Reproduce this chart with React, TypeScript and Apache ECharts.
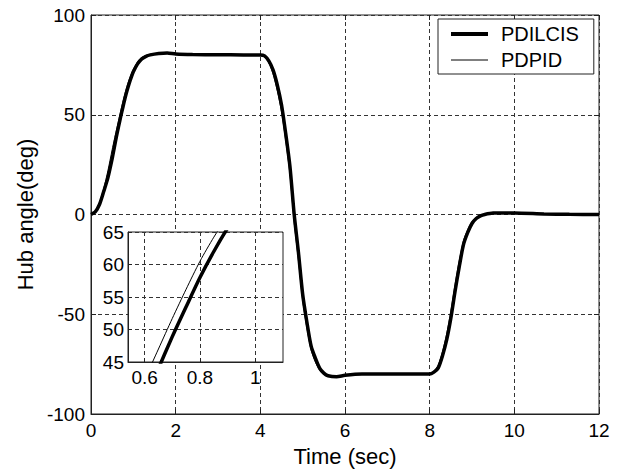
import React, { useEffect, useRef } from "react";
import * as echarts from "echarts";

// Time samples (sec)
const time = [
  0, 0.1, 0.2, 0.3, 0.4, 0.5, 0.55, 0.6, 0.65, 0.7, 0.75, 0.8, 0.85, 0.9, 0.95, 1.0, 1.1, 1.2,
  1.3, 1.4, 1.6, 1.8, 2.0, 2.4, 3.0, 3.6, 4.0, 4.1, 4.2, 4.3, 4.4, 4.5, 4.6, 4.7,
  4.8, 4.9, 5.0, 5.1, 5.2, 5.3, 5.4, 5.5, 5.6, 5.8, 6.0, 6.4, 7.0, 7.6, 8.0, 8.1,
  8.2, 8.3, 8.4, 8.5, 8.6, 8.7, 8.8, 8.9, 9.0, 9.1, 9.2, 9.3, 9.5, 10.0, 10.7,
  11.3, 12.0,
];

// Hub angle (deg), PDILCIS (thick)
const pdilcis = [
  0, 1.3, 5, 11.5, 18.5, 28, 33.5, 39, 44, 48.9, 53.5, 58, 62, 65.6, 68.7, 71.5, 75.5, 78,
  79.3, 80, 80.7, 81, 80.5, 80.2, 80.1, 80, 80, 79.5, 77, 72.5, 65, 55, 40.5, 24,
  0, -19, -40, -54, -66, -72, -77, -79.5, -80.8, -81.3, -80.6, -80, -80, -80, -80, -79,
  -77, -71, -63, -52, -38.5, -26, -15, -9, -4.5, -2, -0.7, 0, 0.7, 0.8, 0.3,
  0.1, 0,
];

// Hub angle (deg), PDPID (thin)
const pdpid = [
  0, 1.6, 6, 13, 22, 32.5, 37.5, 42.3, 47, 51.7, 56.2, 60.5, 64.2, 67.5, 70.3, 72.8, 76.5, 78.7,
  79.8, 80.3, 80.8, 80.9, 80.4, 80.2, 80, 80, 80, 79, 76, 70.5, 62, 51.5, 37, 20,
  -4, -23, -43, -57, -68, -74, -78, -80.2, -81, -81.2, -80.5, -80, -80, -80, -80, -78.5,
  -75.5, -69, -60, -48.5, -35, -23, -13, -7.5, -3.5, -1.5, -0.4, 0.2, 0.7, 0.8, 0.3,
  0.1, 0,
];

const seriesNames = ["PDILCIS", "PDPID"];
const seriesWidths = [3.5, 1];
const insetXLabels = [0.6, 0.8, 1];

const FONT = "Liberation Sans, Arial, sans-serif";
const AXIS_COLOR = "#222";

export default function App() {
  const ref = useRef<HTMLDivElement>(null);

  useEffect(() => {
    if (!ref.current) return;
    const chart = echarts.init(ref.current, null, { renderer: "svg" });

    const thick = time.map((t, i) => [t, pdilcis[i]]);
    const thin = time.map((t, i) => [t, pdpid[i]]);

    const dashed = { show: true, lineStyle: { color: "#333", width: 1, type: [4, 3] as any } };
    const label = (size: number) => ({ fontSize: size, color: "#000", fontFamily: FONT });
    const tick = (len: number) => ({ show: true, inside: true, length: len, lineStyle: { color: AXIS_COLOR } });

    const option: any = {
      animation: false,
      backgroundColor: "#fff",
      textStyle: { fontFamily: FONT },
      grid: [
        { left: 91, top: 15, width: 508, height: 399, show: true, borderColor: AXIS_COLOR, borderWidth: 1, backgroundColor: "transparent", z: 0 },
        { left: 128, top: 232, width: 155, height: 130, show: true, borderColor: AXIS_COLOR, borderWidth: 1, backgroundColor: "#fff", z: 5 },
      ],
      legend: {
        data: seriesNames.map((name, i) => ({
          name,
          lineStyle: { width: seriesWidths[i] + (i === 0 ? 0.5 : 0), color: "#000" },
        })),
        orient: "vertical",
        left: 438,
        top: 19,
        padding: [5, 15, 4, 11],
        itemGap: 6,
        itemWidth: 37,
        itemHeight: 14,
        borderColor: "#222",
        borderWidth: 1,
        backgroundColor: "#fff",
        itemStyle: { opacity: 0 },
        textStyle: { ...label(20), padding: [0, 0, 0, 8], lineHeight: 20 },
        z: 10,
      },
      xAxis: [
        {
          type: "value", gridIndex: 0, min: 0, max: 12, interval: 2,
          name: "Time (sec)", nameLocation: "middle", nameGap: 31,
          nameTextStyle: label(22),
          axisLine: { show: true, onZero: false, lineStyle: { color: AXIS_COLOR } },
          axisTick: tick(5),
          axisLabel: { ...label(19), margin: 7 },
          splitLine: dashed,
        },
        {
          type: "value", gridIndex: 0, min: 0, max: 12, interval: 2, position: "top",
          axisLine: { show: false, onZero: false },
          axisTick: tick(5),
          axisLabel: { show: false },
          splitLine: { show: false },
        },
        {
          type: "value", gridIndex: 1, min: 0.54, max: 1.1, z: 6,
          axisLine: { show: true, onZero: false, lineStyle: { color: AXIS_COLOR } },
          axisTick: { ...tick(4), customValues: insetXLabels },
          axisLabel: { ...label(19), margin: 6, customValues: insetXLabels, formatter: (v: number) => String(v) },
          splitLine: dashed,
        },
      ],
      yAxis: [
        {
          type: "value", gridIndex: 0, min: -100, max: 100, interval: 50,
          name: "Hub angle(deg)", nameLocation: "middle", nameGap: 54, nameRotate: 90,
          nameTextStyle: label(22),
          axisLine: { show: true, onZero: false, lineStyle: { color: AXIS_COLOR } },
          axisTick: tick(5),
          axisLabel: { ...label(19), margin: 6 },
          splitLine: dashed,
        },
        {
          type: "value", gridIndex: 0, min: -100, max: 100, interval: 50, position: "right",
          axisLine: { show: false, onZero: false },
          axisTick: tick(5),
          axisLabel: { show: false },
          splitLine: { show: false },
        },
        {
          type: "value", gridIndex: 1, min: 45, max: 65, interval: 5, z: 6,
          axisLine: { show: true, onZero: false, lineStyle: { color: AXIS_COLOR } },
          axisTick: tick(4),
          axisLabel: { ...label(19), margin: 4 },
          splitLine: dashed,
        },
      ],
      series: [
        {
          name: "PDILCIS", type: "line", xAxisIndex: 0, yAxisIndex: 0, data: thick,
          symbol: "none", smooth: 0.25, z: 3,
          lineStyle: { color: "#000", width: 3.5 }, itemStyle: { color: "#000" },
        },
        {
          name: "PDPID", type: "line", xAxisIndex: 0, yAxisIndex: 0, data: thin,
          symbol: "none", smooth: 0.25, z: 2,
          lineStyle: { color: "#000", width: 1 }, itemStyle: { color: "#000" },
        },
        {
          name: "PDILCIS", type: "line", xAxisIndex: 2, yAxisIndex: 2, data: thick,
          symbol: "none", smooth: 0.25, z: 8, clip: true,
          lineStyle: { color: "#000", width: 3.5 }, itemStyle: { color: "#000" },
        },
        {
          name: "PDPID", type: "line", xAxisIndex: 2, yAxisIndex: 2, data: thin,
          symbol: "none", smooth: 0.25, z: 8, clip: true,
          lineStyle: { color: "#000", width: 1 }, itemStyle: { color: "#000" },
        },
      ],
    };

    chart.setOption(option);
    return () => chart.dispose();
  }, []);

  return (
    <div
      ref={ref}
      style={{ position: "fixed", left: 0, top: 0, width: 626, height: 475, background: "#fff" }}
    />
  );
}
